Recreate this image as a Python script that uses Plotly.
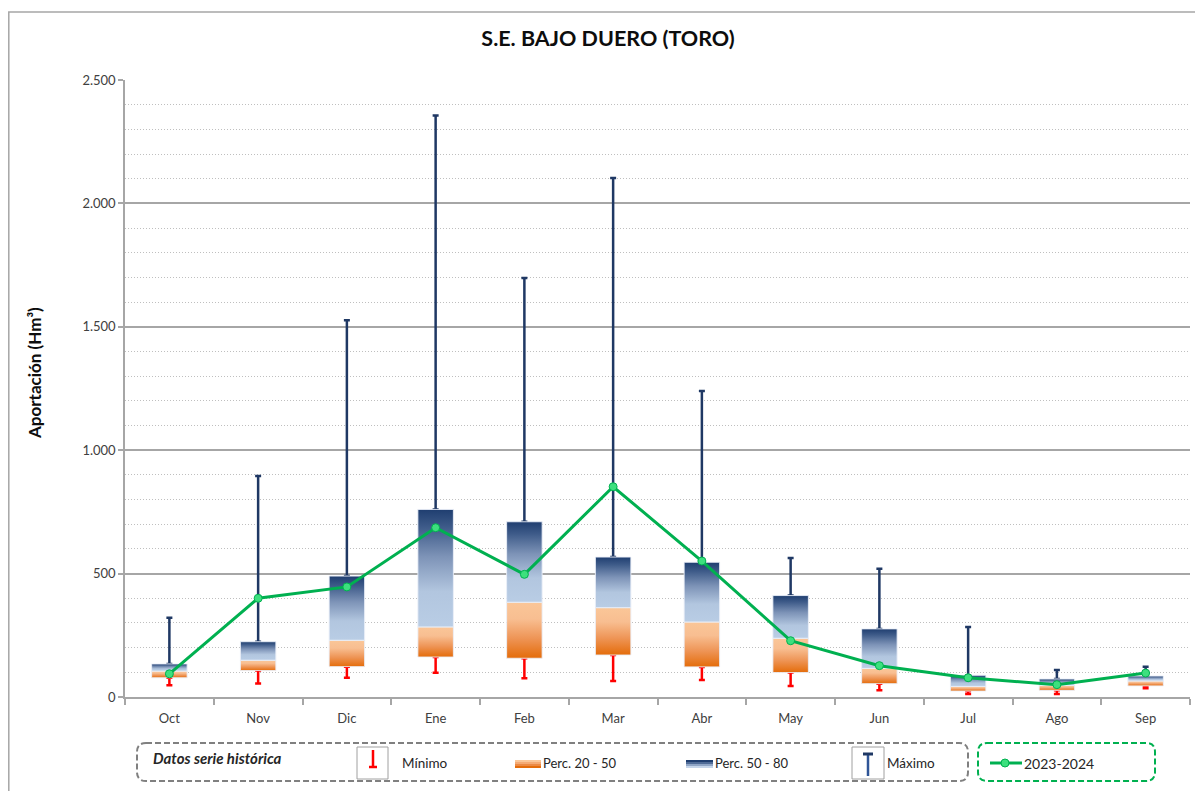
import plotly.graph_objects as go

# ---------------- data ----------------
months = ["Oct", "Nov", "Dic", "Ene", "Feb", "Mar", "Abr", "May", "Jun", "Jul", "Ago", "Sep"]
minimo = [48, 55, 78, 98, 76, 65, 69, 45, 27, 12, 12, 35]
perc20 = [78, 107, 123, 162, 157, 170, 122, 99, 54, 24, 27, 45]
perc50 = [105, 149, 230, 284, 384, 362, 304, 238, 116, 43, 47, 65]
perc80 = [134, 224, 490, 760, 710, 567, 546, 411, 276, 88, 73, 85]
maximo = [321, 895, 1527, 2356, 1698, 2103, 1240, 563, 520, 284, 109, 123]
serie_2324 = [94, 400, 446, 686, 497, 852, 551, 228, 127, 78, 50, 97]

y_ticks = [0, 500, 1000, 1500, 2000, 2500]
y_tick_labels = ["0", "500", "1.000", "1.500", "2.000", "2.500"]

# ---------------- style ----------------
OFF = 8                       # page body margin
W, H = 1203 - OFF, 791 - OFF  # figure size
PL, PR, PT, PB = 125, 1190, 80, 697   # plot area in page pixels
L, R, T, B = PL - OFF, PR - OFF, PT - OFF, PB - OFF
FONT = "Lato"
NAVY = "#1F3864"
RED = "#FF0000"
GREEN = "#00B050"
BLUE_SCALE = [[0, "#B9CDE5"], [0.3, "#B2C6DF"], [0.6, "#7D93B7"], [0.85, "#3E5B89"], [1, "#1F3E70"]]
ORANGE_SCALE = [[0, "#E46C0A"], [0.35, "#EE9455"], [0.7, "#F8BE91"], [1, "#FAC698"]]
HALF = 0.2

def px(x):
    return (x - PL) / (PR - PL)

def py(y):
    return (PB - y) / (PB - PT)

xs = list(range(len(months)))
fig = go.Figure()

# whiskers (maximum) drawn as error bars from P80
fig.add_trace(go.Scatter(
    x=xs, y=perc80, mode="markers", marker=dict(size=1, opacity=0), showlegend=False, hoverinfo="skip",
    error_y=dict(type="data", symmetric=False, array=[m - p for m, p in zip(maximo, perc80)],
                 arrayminus=[0] * len(xs), color=NAVY, thickness=2.5, width=3)))
# whiskers (minimum) from P20
fig.add_trace(go.Scatter(
    x=xs, y=perc20, mode="markers", marker=dict(size=1, opacity=0), showlegend=False, hoverinfo="skip",
    error_y=dict(type="data", symmetric=False, array=[0] * len(xs),
                 arrayminus=[p - m for p, m in zip(perc20, minimo)], color=RED, thickness=2.5, width=3)))

# boxes with vertical gradients
for i in xs:
    for lo, hi, scale in ((perc20[i], perc50[i], ORANGE_SCALE), (perc50[i], perc80[i], BLUE_SCALE)):
        fig.add_trace(go.Scatter(
            x=[i - HALF, i + HALF, i + HALF, i - HALF, i - HALF],
            y=[lo, lo, hi, hi, lo],
            mode="lines", fill="toself",
            line=dict(color="rgba(235,240,248,0.9)", width=1),
            fillgradient=dict(type="vertical", colorscale=scale),
            showlegend=False, hoverinfo="skip"))

# 2023-2024 series
fig.add_trace(go.Scatter(
    x=xs, y=serie_2324, mode="lines+markers", name="2023-2024",
    line=dict(color=GREEN, width=3),
    marker=dict(symbol="circle", size=8, color="#3DE07E", line=dict(color=GREEN, width=1)),
    showlegend=False))

shapes = []
annotations = []

# outer frame
shapes.append(dict(type="rect", xref="paper", yref="paper", x0=px(8.8), x1=px(1215), y0=py(12), y1=py(805),
                   line=dict(color="#A6A6A6", width=1.5), fillcolor="rgba(0,0,0,0)", layer="below"))

def rrect(x0, y0, x1, y1, r):
    pts = [("M", x0 + r, y0), ("L", x1 - r, y0), ("Q", x1, y0, x1, y0 + r), ("L", x1, y1 - r),
           ("Q", x1, y1, x1 - r, y1), ("L", x0 + r, y1), ("Q", x0, y1, x0, y1 - r), ("L", x0, y0 + r),
           ("Q", x0, y0, x0 + r, y0)]
    s = ""
    for p in pts:
        cmd = p[0]
        coords = p[1:]
        parts = []
        for k in range(0, len(coords), 2):
            parts.append(f"{px(coords[k]):.5f},{py(coords[k + 1]):.5f}")
        s += cmd + " " + " ".join(parts) + " "
    return s + "Z"

shapes.append(dict(type="path", xref="paper", yref="paper", path=rrect(137, 743, 968, 781, 9),
                   line=dict(color="#808080", width=2, dash="6px,3px")))
shapes.append(dict(type="path", xref="paper", yref="paper", path=rrect(978, 743, 1155, 781, 9),
                   line=dict(color=GREEN, width=2, dash="6px,3px")))

# icon boxes
for bx0, bx1 in ((357, 388), (852, 884)):
    shapes.append(dict(type="rect", xref="paper", yref="paper", x0=px(bx0), x1=px(bx1), y0=py(747), y1=py(779),
                       line=dict(color="#A0A0A0", width=1), fillcolor="white"))
# minimum icon
shapes.append(dict(type="line", xref="paper", yref="paper", x0=px(373), x1=px(373), y0=py(750), y1=py(767),
                   line=dict(color=RED, width=2.5)))
shapes.append(dict(type="line", xref="paper", yref="paper", x0=px(369), x1=px(377), y0=py(767), y1=py(767),
                   line=dict(color=RED, width=2.5)))
# maximum icon
shapes.append(dict(type="line", xref="paper", yref="paper", x0=px(868), x1=px(868), y0=py(754), y1=py(776),
                   line=dict(color="#2F5597", width=2.5)))
shapes.append(dict(type="line", xref="paper", yref="paper", x0=px(863), x1=px(873), y0=py(754), y1=py(754),
                   line=dict(color=NAVY, width=3)))

# gradient swatches as stripes
orange_stripes = ["#FAC698", "#F4AA74", "#EC8A45", "#E46C0A"]
blue_stripes = ["#1F3E70", "#4F6B97", "#8FA5C6", "#C5D5EA"]
for sx0, sx1, cols in ((515, 541, orange_stripes), (686, 713, blue_stripes)):
    for k, c in enumerate(cols):
        shapes.append(dict(type="rect", xref="paper", yref="paper", x0=px(sx0), x1=px(sx1),
                           y0=py(760 + 2 * k), y1=py(762 + 2 * k), line=dict(width=0), fillcolor=c))

# green legend line
shapes.append(dict(type="line", xref="paper", yref="paper", x0=px(990), x1=px(1022), y0=py(763), y1=py(763),
                   line=dict(color=GREEN, width=3)))
shapes.append(dict(type="circle", xref="paper", yref="paper", x0=px(1001), x1=px(1009), y0=py(759), y1=py(767),
                   line=dict(color=GREEN, width=1), fillcolor="#3DE07E"))

def txt(x, y, s, size=13, **kw):
    annotations.append(dict(xref="paper", yref="paper", x=px(x), y=py(y), text=s, showarrow=False,
                            xanchor="left", yanchor="middle", font=dict(family=FONT, size=size, color="#262626"), **kw))

txt(151, 758, "<b><i>Datos serie histórica</i></b>", 15)
txt(400, 763, "Mínimo", 13.5)
txt(541, 763, "Perc. 20 - 50", 13)
txt(713, 763, "Perc. 50 - 80", 13)
txt(885, 763, "Máximo", 13.5)
txt(1022, 763, "2023-2024", 14)

# y axis title
annotations.append(dict(xref="paper", yref="paper", x=px(34), y=py(373), text="<b>Aportación (Hm³)</b>",
                        showarrow=False, textangle=-90, xanchor="center", yanchor="middle",
                        font=dict(family=FONT, size=17, color="#0D0D0D")))

fig.update_layout(
    width=W, height=H,
    margin=dict(l=L, r=W - R, t=T, b=H - B),
    paper_bgcolor="white", plot_bgcolor="white",
    title=dict(text="<b>S.E. BAJO DUERO (TORO)</b>", x=px(608), xanchor="center", xref="paper",
               y=1 - (38 - OFF) / H, yanchor="middle",
               font=dict(family=FONT, size=21.5, color="#0D0D0D")),
    font=dict(family=FONT, size=12, color="#404040"),
    shapes=shapes, annotations=annotations,
    showlegend=False,
)
fig.update_xaxes(
    range=[-0.5, 11.5], tickmode="array", tickvals=xs, ticktext=months, ticks="",
    showgrid=False, zeroline=False, showline=True, linecolor="#A6A6A6", linewidth=1.5,
    tickfont=dict(family=FONT, size=13, color="#404040"), ticklabelstandoff=9,
    minor=dict(tickmode="array", tickvals=[i - 0.5 for i in range(len(months) + 1)], ticks="outside",
               ticklen=6, tickcolor="#A6A6A6", tickwidth=1.5, showgrid=False),
)
fig.update_yaxes(
    range=[0, 2500], tickmode="array", tickvals=y_ticks, ticktext=y_tick_labels,
    ticks="outside", ticklen=5, tickcolor="#A6A6A6", tickwidth=1.5,
    showgrid=True, gridcolor="#A6A6A6", gridwidth=1.5, zeroline=False,
    showline=True, linecolor="#A6A6A6", linewidth=1.5,
    tickfont=dict(family=FONT, size=13, color="#404040"),
    minor=dict(dtick=100, tick0=0, showgrid=True, griddash="1px,2px", gridcolor="#BFBFBF", gridwidth=1, ticks=""),
)

fig.write_html("out.html")
